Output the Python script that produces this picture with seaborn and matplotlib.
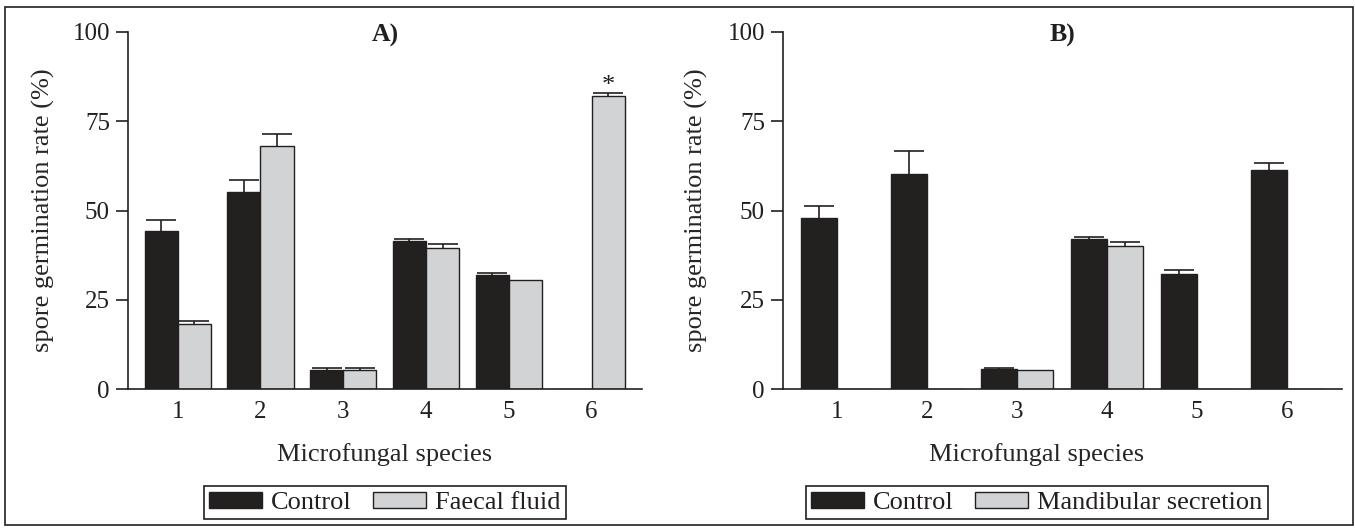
import matplotlib
matplotlib.use("Agg")
import matplotlib.pyplot as plt
from matplotlib.patches import Rectangle
import seaborn as sns
import pandas as pd
import numpy as np

# data (mean % and upper error)
species = ["1", "2", "3", "4", "5", "6"]

control_a = [44.3, 55.2, 5.4, 41.5, 32.0, 0.0]
control_a_err = [3.1, 3.3, 0.6, 0.5, 0.5, 0.0]
faecal = [18.3, 68.1, 5.4, 39.4, 30.5, 82.2]
faecal_err = [0.8, 3.3, 0.6, 1.3, 0.0, 0.6]

control_b = [48.0, 60.1, 5.5, 42.0, 32.2, 61.4]
control_b_err = [3.2, 6.6, 0.4, 0.6, 1.0, 1.8]
mandibular = [0.0, 0.0, 5.4, 40.0, 0.0, 0.0]
mandibular_err = [0.0, 0.0, 0.0, 1.3, 0.0, 0.0]

yticks = [0, 25, 50, 75, 100]

DARK = "#231f20"
LIGHT = "#d1d3d4"

sns.set_style("ticks")
plt.rcParams["font.family"] = ["Liberation Serif", "DejaVu Serif"]
plt.rcParams["axes.edgecolor"] = DARK
plt.rcParams["text.color"] = DARK
plt.rcParams["xtick.color"] = DARK
plt.rcParams["ytick.color"] = DARK


def panel(ax, ctrl, ctrl_err, treat, treat_err, treat_name, title, center_x):
    df = pd.DataFrame({
        "species": species * 2,
        "group": ["Control"] * 6 + [treat_name] * 6,
        "rate": ctrl + treat,
    })
    sns.barplot(data=df, x="species", y="rate", hue="group",
                hue_order=["Control", treat_name], order=species,
                palette={"Control": DARK, treat_name: LIGHT},
                edgecolor=DARK, linewidth=1.0, errorbar=None,
                width=0.8, ax=ax)

    # upward-only error bars on top of each bar
    for cont, errs in zip(ax.containers, [ctrl_err, treat_err]):
        for bar, e in zip(cont, errs):
            if e <= 0:
                continue
            x = bar.get_x() + bar.get_width() / 2
            h = bar.get_height()
            eb = ax.errorbar([x], [h], yerr=[[0], [e]], fmt="none", ecolor=DARK,
                             elinewidth=1.2, capsize=11, capthick=1.2, zorder=1)
            # drop the cap at the bar top, keep only the upper one
            eb[1][0].set_visible(False)

    ax.set_xlim(-0.6, 5.61)
    ax.set_ylim(0, 100)
    ax.set_yticks(yticks)
    ax.set_yticklabels([str(t) for t in yticks], fontsize=18)
    ax.tick_params(axis="y", direction="out", length=9, width=1.2, pad=4)
    ax.tick_params(axis="x", length=0, pad=9, labelsize=18)
    sns.despine(ax=ax)
    for s in ["left", "bottom"]:
        ax.spines[s].set_linewidth(1.2)

    ax.set_xlabel("Microfungal species", fontsize=19)
    ax.set_ylabel("spore germination rate (%)", fontsize=19)
    ax.xaxis.set_label_coords(center_x, -0.151)
    ax.text(0.5, 0.99, title, transform=ax.transAxes, ha="center",
            va="center", fontsize=18.5, fontweight="bold")

    leg = ax.legend(loc="center", bbox_to_anchor=(center_x, -0.319), ncol=2,
                    fontsize=19, frameon=True, fancybox=False, framealpha=1,
                    handlelength=2.0, handleheight=0.55, handletextpad=0.35,
                    columnspacing=0.8, borderpad=0.2, title=None)
    leg.get_frame().set_edgecolor(DARK)
    leg.get_frame().set_linewidth(1.2)
    return ax


fig = plt.figure(figsize=(13.55, 5.31), dpi=100)
ax_a = fig.add_axes([128 / 1355, 1 - 389 / 531, 514 / 1355, 357 / 531])
ax_b = fig.add_axes([783 / 1355, 1 - 389 / 531, 559 / 1355, 357 / 531])

panel(ax_a, control_a, control_a_err, faecal, faecal_err,
      "Faecal fluid", "A)", 0.5)
ax_a.yaxis.set_label_coords(-0.142, 0.5)

panel(ax_b, control_b, control_b_err, mandibular, mandibular_err,
      "Mandibular secretion", "B)", 0.454)
ax_b.yaxis.set_label_coords(-0.134, 0.5)

# significance mark above species 6 (faecal fluid)
star_bar = ax_a.containers[1][5]
ax_a.text(star_bar.get_x() + star_bar.get_width() / 2,
          star_bar.get_height() + faecal_err[5] + 0.4, "*",
          ha="center", va="baseline", fontsize=19)

# outer frame around the whole figure
fig.patches.append(Rectangle((5 / 1355, 1 - 525 / 531), 1348 / 1355, 518 / 531,
                             transform=fig.transFigure, fill=False,
                             edgecolor=DARK, linewidth=1.2))

fig.savefig("out.png", dpi=100)
plt.close(fig)
